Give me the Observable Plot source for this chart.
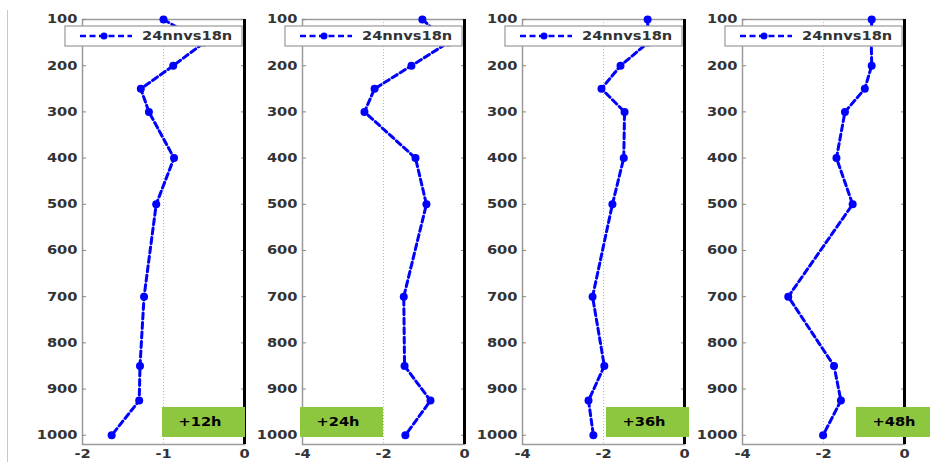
<!DOCTYPE html>
<html><head><meta charset="utf-8">
<script src="https://cdn.jsdelivr.net/npm/d3@7"></script>
<script src="https://cdn.jsdelivr.net/npm/@observablehq/plot@0.6"></script>
<style>
body{margin:0;background:#fff;}
#wrap{position:relative;width:930px;height:462px;overflow:hidden;background:#fff;}
.panel{position:absolute;top:0;}
#edge{position:absolute;left:7px;top:10px;width:1px;height:452px;background:#c8c8c8;}
</style></head><body><div id="wrap"><div id="edge"></div></div>
<script>
// ---- data ----
const levels = [100, 150, 200, 250, 300, 400, 500, 700, 850, 925, 1000];
const seriesName = "24nnvs18n";
const panelLabels = ["+12h", "+24h", "+36h", "+48h"];
const v12 = [-1.00, -0.50, -0.88, -1.28, -1.18, -0.87, -1.09, -1.24, -1.29, -1.30, -1.64];
const v24 = [-1.04, -0.40, -1.31, -2.22, -2.47, -1.21, -0.94, -1.50, -1.48, -0.84, -1.46];
const v36 = [-0.91, -0.90, -1.58, -2.05, -1.48, -1.50, -1.78, -2.27, -1.98, -2.37, -2.25];
const v48 = [-0.81, -0.82, -0.81, -0.98, -1.47, -1.68, -1.28, -2.87, -1.74, -1.57, -2.01];
const series = [v12, v24, v36, v48];
const xDomains = [[-2, 0], [-4, 0], [-4, 0], [-4, 0]];
const xTicks = [[-2, -1, 0], [-4, -2, 0], [-4, -2, 0], [-4, -2, 0]];
const gridX = [-1, -2, -2, -2];
const yTicks = [100, 200, 300, 400, 500, 600, 700, 800, 900, 1000];

// ---- layout ----
const panelLeft = [0, 220, 440, 660];
const ML = 82, PW = 162, W = 260, H = 462;
const boxOffset = [80, -2, 84, 114];
const fmt = d => String(d);

const wrap = document.getElementById("wrap");

function stretch(svg, f) {
  svg.querySelectorAll("text").forEach(t => {
    const w = t.getComputedTextLength();
    if (w > 0) {
      t.setAttribute("textLength", (w * f).toFixed(2));
      t.setAttribute("lengthAdjust", "spacingAndGlyphs");
    }
  });
}

series.forEach((vals, i) => {
  const data = levels.map((p, j) => ({p, v: vals[j]}));
  const plot = Plot.plot({
    width: W, height: H,
    marginLeft: ML, marginRight: W - ML - PW, marginTop: 19, marginBottom: 18,
    style: {background: "transparent", fontFamily: "DejaVu Sans", fontSize: "12px", fontWeight: "bold", color: "#333", overflow: "visible"},
    x: {domain: xDomains[i], ticks: xTicks[i], label: null},
    y: {domain: [100, 1020], reverse: true, ticks: yTicks, label: null},
    marks: [
      Plot.ruleX([gridX[i]], {stroke: "#bbb", strokeDasharray: "1,2"}),
      Plot.frame({stroke: "#9a9a9a", strokeWidth: 1.5}),
      Plot.axisY({ticks: yTicks, tickSize: 0, tickPadding: 5, tickFormat: fmt, fill: "#333", label: null}),
      Plot.axisY({ticks: yTicks, anchor: "left", tickSize: 4, dx: 4, fill: "none", stroke: "#888", label: null}),
      Plot.axisY({ticks: yTicks, anchor: "right", tickSize: 4, dx: -4, fill: "none", stroke: "#888", label: null}),
      Plot.axisX({ticks: xTicks[i], tickSize: 0, tickPadding: 5, tickFormat: fmt, fill: "#333", label: null}),
      Plot.ruleX([0], {stroke: "black", strokeWidth: 3}),
      Plot.line(data, {x: "v", y: "p", stroke: "#0000ff", strokeWidth: 3, strokeDasharray: "6,3.5"}),
      Plot.dot(data, {x: "v", y: "p", fill: "#0000ff", r: 4})
    ]
  });
  const div = document.createElement("div");
  div.className = "panel";
  div.style.left = panelLeft[i] + "px";
  div.appendChild(plot);
  wrap.appendChild(div);

  const svg = d3.select(plot);
  // legend
  const g = svg.append("g");
  g.append("rect").attr("x", ML - 17).attr("y", 26).attr("width", 177).attr("height", 20)
    .attr("fill", "white").attr("stroke", "#999").attr("stroke-width", 1.2);
  g.append("line").attr("x1", ML - 2).attr("x2", ML + 50).attr("y1", 36).attr("y2", 36)
    .attr("stroke", "#0000ff").attr("stroke-width", 2.5).attr("stroke-dasharray", "6,3.5");
  g.append("circle").attr("cx", ML + 22).attr("cy", 36).attr("r", 3.5).attr("fill", "#0000ff");
  g.append("text").attr("x", ML + 60).attr("y", 36).attr("dy", "0.36em").attr("text-anchor", "start")
    .attr("fill", "#333").text(seriesName);
  // time label box
  const bx = ML + boxOffset[i];
  const lb = svg.append("g");
  lb.append("rect").attr("x", bx).attr("y", 407).attr("width", 83).attr("height", 30).attr("fill", "#8dc63f");
  lb.append("text").attr("x", bx + 38).attr("y", 422).attr("dy", "0.36em").attr("text-anchor", "middle")
    .attr("fill", "black").text(panelLabels[i]);

  stretch(plot, 1.22);
});
</script>
</body></html>
